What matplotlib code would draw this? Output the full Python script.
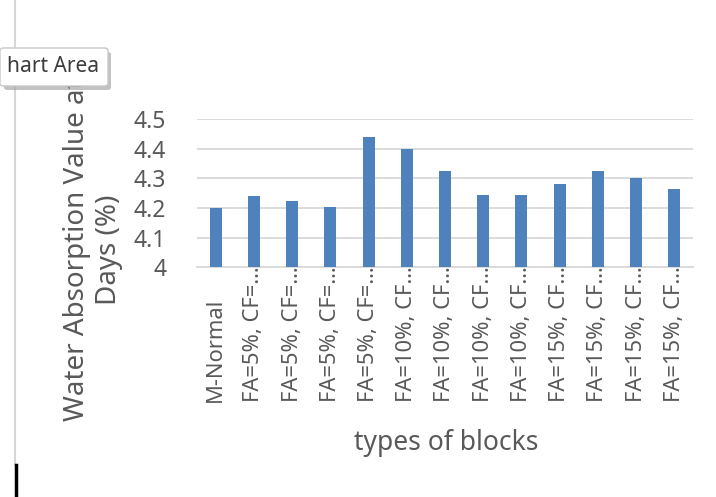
import matplotlib.pyplot as plt
from matplotlib.patches import FancyBboxPatch
from matplotlib.lines import Line2D

# values
blocks = ["M-Normal",
          "FA=5%, CF=…", "FA=5%, CF=…", "FA=5%, CF=…", "FA=5%, CF=…",
          "FA=10%, CF…", "FA=10%, CF…", "FA=10%, CF…", "FA=10%, CF…",
          "FA=15%, CF…", "FA=15%, CF…", "FA=15%, CF…", "FA=15%, CF…"]
absorption = [4.20, 4.24, 4.225, 4.205, 4.44, 4.40, 4.325, 4.245, 4.245, 4.28, 4.325, 4.30, 4.265]
yticks = [4, 4.1, 4.2, 4.3, 4.4, 4.5]
ytick_labels = ["4", "4.1", "4.2", "4.3", "4.4", "4.5"]

plt.rcParams["font.family"] = ["Noto Sans", "DejaVu Sans"]
txt = "#595959"

fig = plt.figure(figsize=(7.16, 4.97), dpi=100)
ax = fig.add_axes([0.2747, 0.4622, 0.6936, 0.2978])

x = list(range(len(blocks)))
ax.bar(x, absorption, width=0.31, color="#4F81BD", zorder=3)
ax.set_ylim(4, 4.5)
ax.set_xlim(-0.5, len(blocks) - 0.5)
ax.set_yticks(yticks)
ax.set_yticklabels(ytick_labels, fontsize=16.5, color=txt)
ax.tick_params(axis="y", length=0, pad=22)
ax.set_xticks([])
for s in ["left", "right", "top"]:
    ax.spines[s].set_visible(False)
ax.spines["bottom"].set_color("#d9d9d9")
ax.spines["bottom"].set_linewidth(1.3)
ax.grid(axis="y", color="#d9d9d9", linewidth=1.3, zorder=0)

# category labels, rotated and aligned at their start
for i, lab in enumerate(blocks):
    ax.text(i, -0.91, lab, transform=ax.get_xaxis_transform(), rotation=90,
            ha="center", va="bottom", fontsize=15.8, color=txt)

fig.text(446 / 716, 1 - 443 / 497, "types of blocks", ha="center", va="center",
         fontsize=19, color=txt)
fig.text(93 / 716, 1 - 250 / 497, "Water Absorption Value at\nDays (%)", rotation=90,
         ha="center", va="center", multialignment="center", fontsize=20, color=txt,
         linespacing=1.2)

# editor artefacts: side ruler and "Chart Area" tooltip
fig.add_artist(Line2D([15 / 716, 15 / 716], [1 - 465 / 497, 1], transform=fig.transFigure,
                      color="#d6d6d6", linewidth=1.5))
fig.add_artist(Line2D([15.5 / 716, 15.5 / 716], [0, 1 - 465 / 497], transform=fig.transFigure,
                      color="black", linewidth=2.5))
shadow = FancyBboxPatch((4 / 716, 1 - 90 / 497), 107 / 716, 38 / 497,
                        boxstyle="round,pad=0,rounding_size=0.005", transform=fig.transFigure,
                        facecolor="#9a9a9a", edgecolor="none", alpha=0.6, zorder=10)
fig.add_artist(shadow)
tip = FancyBboxPatch((0, 1 - 86 / 497), 108 / 716, 38 / 497,
                     boxstyle="round,pad=0,rounding_size=0.005", transform=fig.transFigure,
                     facecolor="white", edgecolor="#c8c8c8", linewidth=1, zorder=11)
fig.add_artist(tip)
fig.text(7 / 716, 1 - 67 / 497, "hart Area", ha="left", va="center", fontsize=15,
         color="#3c3c3c", zorder=12)

fig.savefig("out.png", dpi=100)
